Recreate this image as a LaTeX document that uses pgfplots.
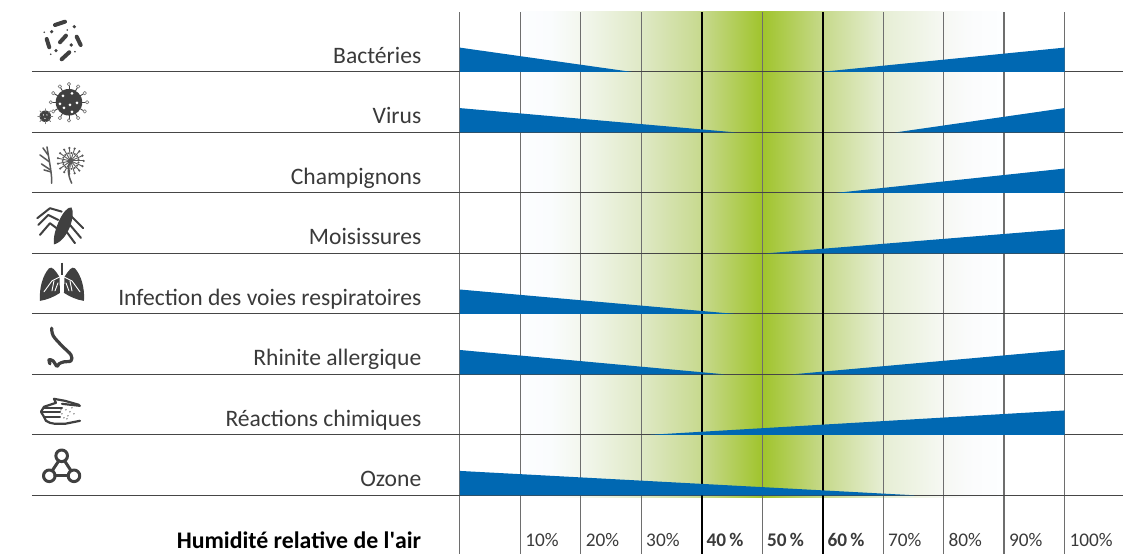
\documentclass[border=0pt]{standalone}
\usepackage{fontspec}
\setmainfont{Carlito}
\usepackage{pgfplots}
\pgfplotsset{compat=1.18}
\definecolor{gridg}{RGB}{110,110,110}
\definecolor{hlin}{RGB}{70,70,70}
\definecolor{blu}{RGB}{0,104,178}
\definecolor{ico}{RGB}{64,64,64}
\definecolor{txt}{RGB}{58,58,58}
\definecolor{g10}{HTML}{FCFDFF}
\definecolor{g15}{HTML}{FAFCFD}
\definecolor{g20}{HTML}{F3F7EE}
\definecolor{g30}{HTML}{DFE9C6}
\definecolor{g40}{HTML}{C7D98E}
\definecolor{g50}{HTML}{A0C42C}
\definecolor{g60}{HTML}{C6D98A}
\definecolor{g70}{HTML}{E6EED4}
\definecolor{g80}{HTML}{F6F8F3}
\definecolor{g85}{HTML}{FBFCFD}
\definecolor{g90}{HTML}{FDFEFF}
\pgfdeclarehorizontalshading{hum}{100bp}{
 color(0bp)=(g10); color(25bp)=(g10);
 color(28.1bp)=(g15);
 color(31.25bp)=(g20);
 color(37.5bp)=(g30);
 color(43.75bp)=(g40);
 color(50bp)=(g50);
 color(56.25bp)=(g60);
 color(62.5bp)=(g70);
 color(68.75bp)=(g80);
 color(71.9bp)=(g85);
 color(75bp)=(g90); color(100bp)=(g90)}
\begin{document}
\begin{tikzpicture}
\path (0,0) rectangle (1123pt,554pt);
\begin{axis}[
 at={(32pt,0pt)}, anchor=south west,
 scale only axis, width=1091pt, height=542pt,
 set layers,
 xmin=-70.744, xmax=109.59, ymin=-0.967, ymax=7.992,
 axis line style={draw=none}, major tick length=0pt,
 clip=false,
 xtick={0,10,...,100},
 xticklabels={,10\%,20\%,30\%,\textbf{40\,\%},\textbf{50\,\%},\textbf{60\,\%},70\%,80\%,90\%,100\%},
 x tick label style={anchor=base west,xshift=1.5pt,yshift=7pt,font=\fontsize{19.3}{21}\selectfont,text=txt},
 ytick={0,...,7},
 yticklabels={Ozone,Réactions chimiques,Rhinite allergique,Infection des voies respiratoires,Moisissures,Champignons,Virus,Bactéries},
 y tick label style={anchor=base east,xshift=393pt,yshift=8.5pt,font=\fontsize{23.6}{26}\selectfont,text=txt},
 xmajorgrids, ymajorgrids,
 x grid style={gridg,line width=1.1pt},
 y grid style={hlin,line width=1pt},
]
\addplot[on layer=axis background,draw=none,shading=hum,shade] coordinates {(10,-0.035)(90,-0.035)(90,7.992)(10,7.992)} -- cycle;
\addplot[black,line width=2.2pt] coordinates {(40,-0.967)(40,7.992)};
\addplot[black,line width=2.2pt] coordinates {(60,-0.967)(60,7.992)};
% Bactéries
\addplot[fill=blu,draw=none] coordinates {(0,7)(0,7.403)(28.5,7)} -- cycle;
\addplot[fill=blu,draw=none] coordinates {(59.6,7)(100,7.403)(100,7)} -- cycle;
% Virus
\addplot[fill=blu,draw=none] coordinates {(0,6)(0,6.403)(45.7,6)} -- cycle;
\addplot[fill=blu,draw=none] coordinates {(72,6)(100,6.403)(100,6)} -- cycle;
% Champignons
\addplot[fill=blu,draw=none] coordinates {(62.2,5)(100,5.403)(100,5)} -- cycle;
% Moisissures
\addplot[fill=blu,draw=none] coordinates {(50.6,4)(100,4.403)(100,4)} -- cycle;
% Infection
\addplot[fill=blu,draw=none] coordinates {(0,3)(0,3.403)(45.4,3)} -- cycle;
% Rhinite
\addplot[fill=blu,draw=none] coordinates {(0,2)(0,2.403)(43.8,2)} -- cycle;
\addplot[fill=blu,draw=none] coordinates {(55,2)(100,2.403)(100,2)} -- cycle;
% Réactions
\addplot[fill=blu,draw=none] coordinates {(31.4,1)(100,1.403)(100,1)} -- cycle;
% Ozone
\addplot[fill=blu,draw=none] coordinates {(0,0)(0,0.403)(75.2,0)} -- cycle;
\end{axis}
\node[anchor=base east,inner sep=0pt,font=\fontsize{23.8}{26}\selectfont\bfseries,text=black] at (421.5pt,5.5pt) {Humidité relative de l\textquotesingle air};
% icons, in picture pixels
\begin{scope}[x=1pt,y=-1pt,shift={(0pt,554pt)},ico,line cap=round,line join=round]
 % bacteria
 \foreach \a/\b/\c/\d in {55/25/65/21.7,60/42.3/66/35.7,46.7/39/49.3/47.3,76.7/36.7/80.7/45,61.7/59.3/69.3/52.3}
   \draw[line width=4pt] (\a,\b)--(\c,\d);
 \foreach \a/\b/\r in {51.7/31.7/1.8,74.3/26.7/1.8,56/50.7/1.8,71.3/45/1.8,44.3/32.3/.9,67.3/30/.9,50.7/54.3/.9,75/51.7/.9}
   \fill (\a,\b) circle (\r);
 % virus
 \fill (69,102.3) circle (13.3);
 \foreach \t in {0,30,...,330}{
   \draw[line width=.9pt] (69,102.3)++(\t:13)--++(\t:3.5);
   \draw[line width=.7pt,gray] (69,102.3)++(\t:18.2) circle (1.7);}
 \foreach \a/\b in {63/96,72/93.5,77/103,70/105,64/108,72/112,60/104}
   \fill[white] (\a,\b) circle (1.5);
 \fill (45.3,116.3) circle (5.8);
 \foreach \t in {0,45,...,315}
   \draw[line width=.9pt,gray] (45.3,116.3)++(\t:5)--++(\t:2.5);
 \foreach \a/\b in {43.5/115,47/115,45/118.5}
   \fill[white] (\a,\b) circle (.7);
 % plant
 \begin{scope}[line width=1.5pt,gray!70!black]
 \draw (51.7,183.3) .. controls (52,175) and (50,165) .. (47,147);
 \draw (50.5,170)--(41.5,164); \draw (49.5,162)--(40,155); \draw (48,155)--(43,148);
 \draw (51,172)--(44,170); 
 \draw (71.7,183.3) .. controls (68,175) and (67,168) .. (70.7,161);
 \foreach \t in {0,24,...,336}{
   \draw[line width=.9pt] (70.7,161)--++(\t:13);
   \fill (70.7,161)++(\t:13) circle (1.2);
   \fill (70.7,161)++(\t+12:8) circle (1.1);}
 \fill (70.7,161) circle (2.5);
 \end{scope}
 % spider
 \fill (54,244.5) .. controls (52,232) and (64,206) .. (71.5,207.5) .. controls (76,215) and (68,241) .. cycle;
 \begin{scope}[line width=2pt]
 \draw (61.7,211.7)--(50,208.3)--(37.3,218.3);
 \draw (58.3,220)--(48.3,215)--(38.3,225);
 \draw (56.7,228.3)--(50,223.3)--(40,235);
 \draw (71,216)--(83.3,228.3);
 \draw (70,225)--(81,238);
 \draw (66.7,232)--(75,243.3);
 \end{scope}
 % lungs
 \draw[line width=2.4pt,line cap=butt] (62,262.7)--(62,275);
 \fill (59.5,277) .. controls (55,270) and (52,266) .. (49,268.5) .. controls (43,275) and (39,288) .. (40,301) .. controls (47,300) and (54,297) .. (60,293) -- cycle;
 \fill (64.5,277) .. controls (69,270) and (72,266) .. (75,268.5) .. controls (81,275) and (85,288) .. (84,301) .. controls (77,300) and (70,297) .. (64,293) -- cycle;
 \begin{scope}[white,line width=.9pt]
 \draw (60,277)--(52,281)--(44,292); \draw (54,281)--(52,291); \draw (58,283)--(55,291);
 \draw (64,277)--(72,281)--(80,292); \draw (70,281)--(72,291); \draw (66,283)--(69,291);
 \end{scope}
 % nose
 \draw[line width=3.2pt] plot[smooth,tension=.6] coordinates {(51.7,328.3)(53.3,336)(62,346)(71,355)(71,361)(64,362)(59,364)(57,366.5)(53,361)(49,360)(50,364)};
 % hand
 \begin{scope}[line width=2.2pt]
 \draw (54,399)--(65,401)--(79,405);
 \draw (54,399)--(56,403)--(44,407)--(41,412)--(44,417)--(46,421)--(50,423)--(55,424)--(65,424)--(80,421);
 \draw (44,408)--(62,408); \draw (42,412.5)--(60,412.5); \draw (44,417)--(60,417);
 \draw (62,404)--(80,406);
 \end{scope}
 \foreach \a/\b in {62/414,66/410,70/412,64/418,68/416,72/408,74/414,61/410,67/419}
   \fill (\a,\b) circle (.7);
 % ozone
 \begin{scope}[line width=3pt]
 \draw (61.7,456) circle (5.8);
 \draw (49.3,476) circle (5.8);
 \draw (74,476) circle (5.8);
 \draw (58.8,461)--(52.2,471); \draw (64.6,461)--(71.1,471); \draw (55,476)--(68.3,476);
 \end{scope}
\end{scope}
\end{tikzpicture}
\end{document}
